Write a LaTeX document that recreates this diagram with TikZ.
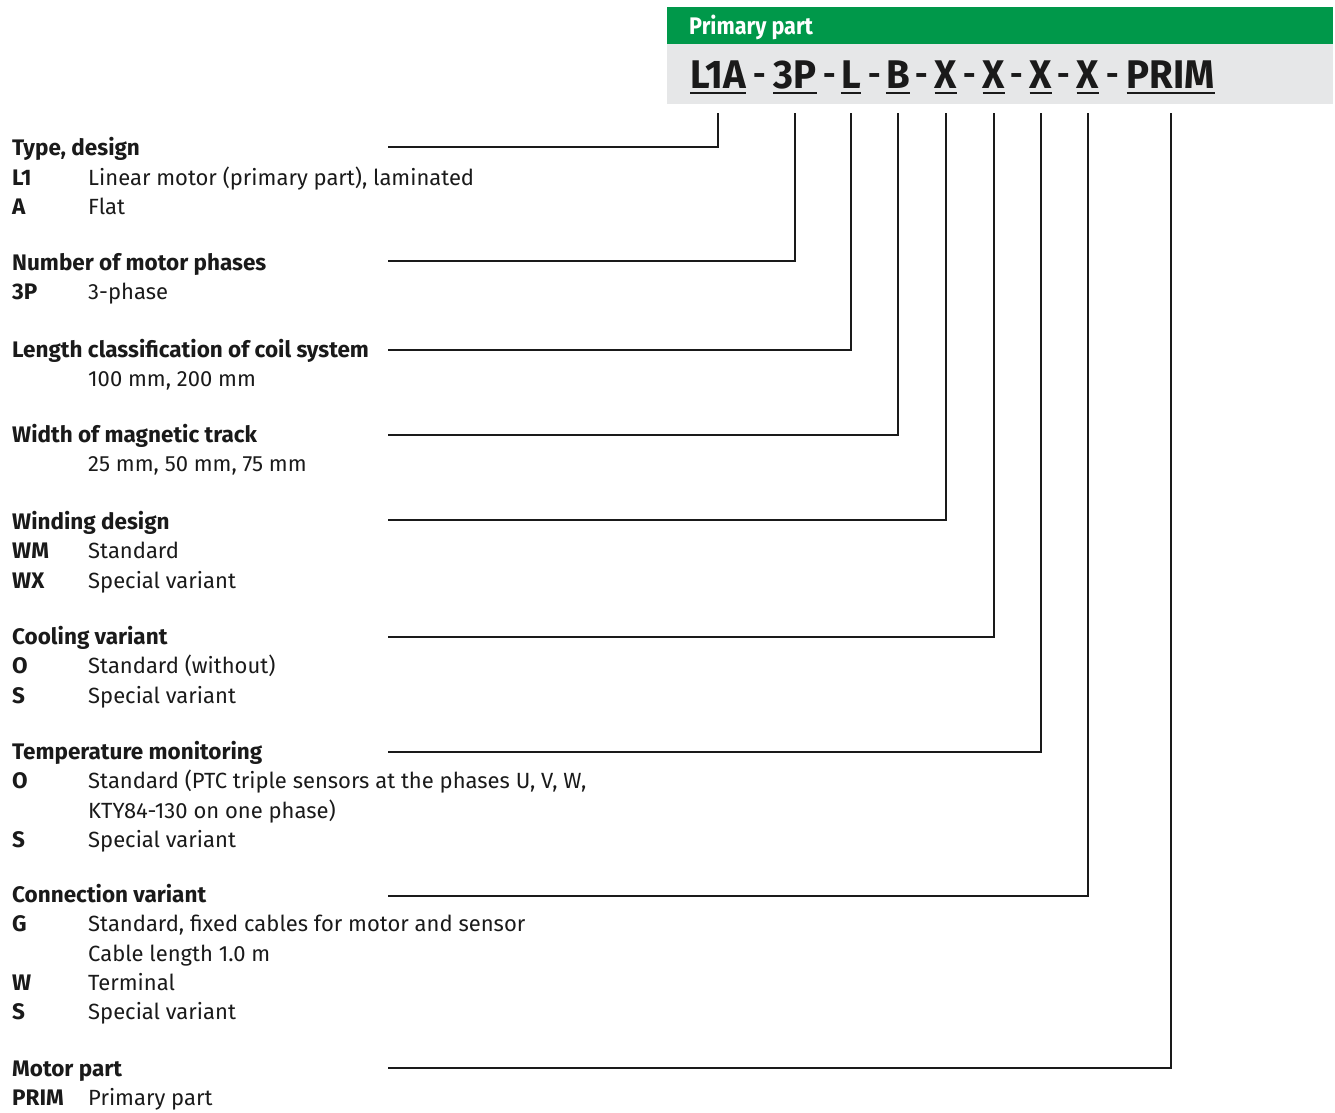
\documentclass[tikz,border=0pt]{standalone}
\usepackage{fontspec}
\setmainfont{Fira Sans}
\newfontfamily\codefont[FakeStretch=0.96]{Fira Sans}
\newfontfamily\titlefont[FakeStretch=0.9]{Fira Sans}
\definecolor{ink}{HTML}{1A1A1A}
\definecolor{headgreen}{HTML}{00984A}
\definecolor{headgray}{HTML}{E6E7E8}

\begin{document}
\begin{tikzpicture}[x=1pt, y=-1pt,
    every node/.style={inner sep=0pt, anchor=base west, text=ink, font=\fontsize{22}{26}\selectfont},
    key/.style={font=\fontsize{22.5}{26}\selectfont\bfseries},
    head/.style={font=\fontsize{22.5}{26}\selectfont\bfseries},
    code/.style={anchor=base, font=\codefont\fontsize{40}{44}\selectfont\bfseries},
    dash sign/.style={anchor=base, font=\codefont\fontsize{32}{36}\selectfont\bfseries},
    lead/.style={draw=ink, line width=1.2pt}]

    \useasboundingbox (0,0) rectangle (1335,1112);

    \fill [headgreen] (667,7) rectangle (1333,44);
    \fill [headgray] (667,44) rectangle (1333,104);
    \node [font=\titlefont\fontsize{24}{28}\selectfont\bfseries, text=white] (title) at (689,34) {Primary part};

    \node [code] (cL1A) at (718,88) {L1A};
    \node [code] (c3P) at (795,88) {3P};
    \node [code] (cL) at (851,88) {L};
    \node [code] (cB) at (898,88) {B};
    \node [code] (cX1) at (946,88) {X};
    \node [code] (cX2) at (994,88) {X};
    \node [code] (cX3) at (1041,88) {X};
    \node [code] (cX4) at (1088,88) {X};
    \node [code] (cPRIM) at (1171,88) {PRIM};
    \foreach \x in {760,830,875,922,970,1017,1064,1113}
        \node [dash sign] at (\x,85) {-};
    \foreach \n in {cL1A,c3P,cL,cB,cX1,cX2,cX3,cX4,cPRIM}
        \draw [ink, line width=1.6pt] ([yshift=-5pt]\n.base west) -- ([yshift=-5pt]\n.base east);

    \node [head] (type) at (12,155) {Type, design};
    \node [key] at (12,185) {L1};
    \node at (88,185) {Linear motor (primary part), laminated};
    \node [key] at (12,214) {A};
    \node at (88,214) {Flat};

    \node [head] (phases) at (12,270) {Number of motor phases};
    \node [key] at (12,299) {3P};
    \node at (88,299) {3-phase};

    \node [head] (length) at (12,357) {Length classification of coil system};
    \node at (88,386) {100 mm, 200 mm};

    \node [head] (width) at (12,442) {Width of magnetic track};
    \node at (88,471) {25 mm, 50 mm, 75 mm};

    \node [head] (winding) at (12,529) {Winding design};
    \node [key] at (12,558) {WM};
    \node at (88,558) {Standard};
    \node [key] at (12,588) {WX};
    \node at (88,588) {Special variant};

    \node [head] (cooling) at (12,644) {Cooling variant};
    \node [key] at (12,673) {O};
    \node at (88,673) {Standard (without)};
    \node [key] at (12,703) {S};
    \node at (88,703) {Special variant};

    \node [head] (temp) at (12,759) {Temperature monitoring};
    \node [key] at (12,788) {O};
    \node at (88,788) {Standard (PTC triple sensors at the phases U, V, W,};
    \node at (88,818) {KTY84-130 on one phase)};
    \node [key] at (12,847) {S};
    \node at (88,847) {Special variant};

    \node [head] (conn) at (12,902) {Connection variant};
    \node [key] at (12,931) {G};
    \node at (88,931) {Standard, fixed cables for motor and sensor};
    \node at (88,961) {Cable length 1.0 m};
    \node [key] at (12,990) {W};
    \node at (88,990) {Terminal};
    \node [key] at (12,1019) {S};
    \node at (88,1019) {Special variant};

    \node [head] (motor) at (12,1076) {Motor part};
    \node [key] at (12,1105) {PRIM};
    \node at (88,1105) {Primary part};

    \coordinate (top) at (0,113);
    \foreach \c/\h/\y in {cL1A/type/147, c3P/phases/261, cL/length/350, cB/width/435,
        cX1/winding/520, cX2/cooling/637, cX3/temp/752, cX4/conn/896, cPRIM/motor/1068}{
        \coordinate (e\h) at (388,\y);
        \draw [lead] (\c |- top) |- (e\h);
    }
\end{tikzpicture}
\end{document}
